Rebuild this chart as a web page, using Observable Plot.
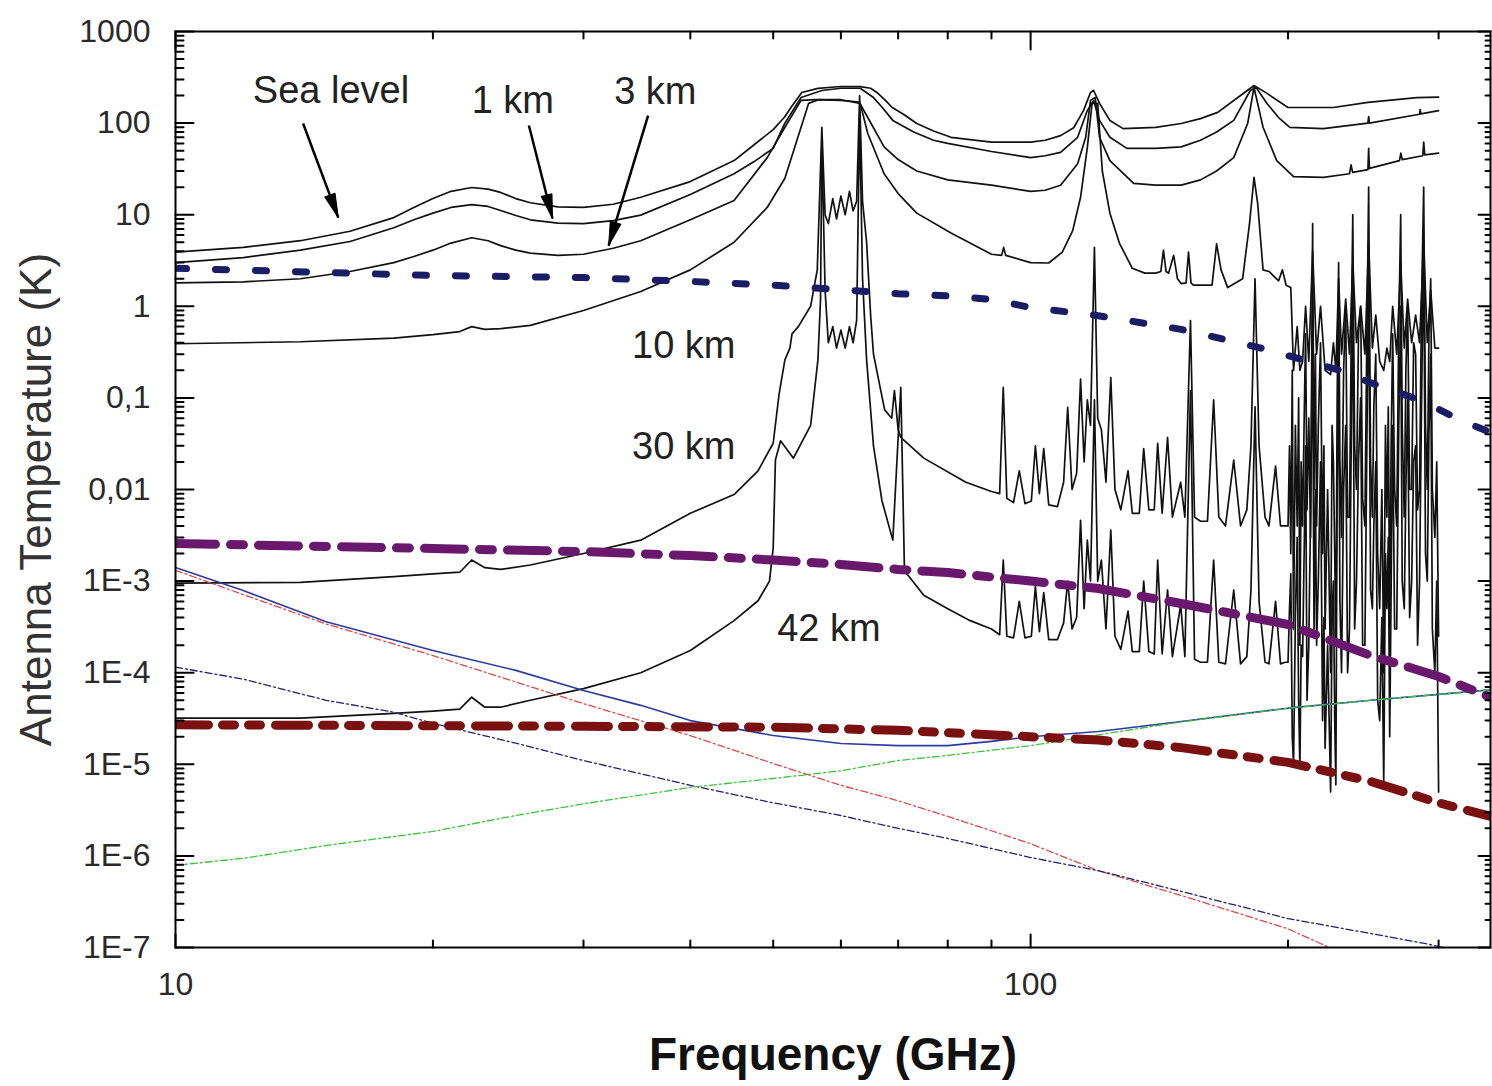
<!DOCTYPE html>
<html>
<head>
<meta charset="utf-8">
<script src="https://cdn.jsdelivr.net/npm/d3@7"></script>
<script src="https://cdn.jsdelivr.net/npm/@observablehq/plot@0.6"></script>
<style>
  html, body { margin: 0; padding: 0; background: #fff; }
  #chart svg { display: block; }
</style>
</head>
<body>
<div id="chart"></div>
<script>
// ---------- axis ticks / labels ----------
const xDomain = [10, 345];
const yDomain = [1e-7, 1000];
const xMajor = [10, 100];
const xTickLabels = ["10", "100"];
const xMinor = [20, 30, 40, 50, 60, 70, 80, 90, 200, 300];
const yMajor = [1e-7, 1e-6, 1e-5, 1e-4, 1e-3, 1e-2, 1e-1, 1, 10, 100, 1000];
const yTickLabels = ["1E-7", "1E-6", "1E-5", "1E-4", "1E-3", "0,01", "0,1", "1", "10", "100", "1000"];
const minorMultipliers = [2, 3, 4, 5, 6, 7, 8, 9];
const xTitle = "Frequency (GHz)";
const yTitle = "Antenna Temperature (K)";

// ---------- annotations ----------
const labelText = ["Sea level", "1 km", "3 km", "10 km", "30 km", "42 km"];
const labelFreq = [15.2, 24.8, 36.4, 39.3, 39.3, 58.1];
const labelTemp = [227, 177, 221, 0.373, 0.0294, 3.03e-4];
const arrowFrom = [[14.1, 99], [25.9, 94], [35.7, 121]];
const arrowTo = [[15.5, 9.3], [27.6, 9.1], [32.1, 4.6]];

// ---------- series: [frequency GHz, antenna temperature K] ----------
const seaLevel = [[10,3.9],[12,4.4],[14,5.2],[16,6.6],[18,9.3],[19,12],[20,15],[21,18],[22.2,19.8],[23.2,19],[24,17.5],[25,15],[26,13.5],[28,12.2],[30,12.0],[32.5,13],[35,15.5],[40,23],[45,39],[47.5,58],[50,85],[51.5,115],[52.5,150],[54,216],[56.4,239],[60,251],[63.2,250],[65,240],[66.1,216],[67.5,180],[68.9,148],[71,125],[73.6,99],[77,82],[80.7,70],[90,62],[100,62],[104,65],[108.4,73],[112.3,89],[115.3,137],[117.5,216],[118.5,227],[120.4,164],[123.8,107],[128.3,87],[140,90],[150,99],[158,112],[165.5,131],[176,200],[182.5,257],[189,211],[200,148],[226,148],[248,168],[283,190],[300,192]];

const oneKm = [[10,3.0],[12,3.4],[14,4.1],[16,5.1],[18,7.2],[19,8.8],[20,10.4],[21,12],[22.2,12.9],[23.2,12.3],[24,11.1],[25,9.8],[26,8.8],[28,8.1],[30,8.0],[32.5,8.6],[35,9.9],[40,16.6],[45,28],[47.5,38],[50,53],[51.6,100],[53.9,190],[57,227],[60,240],[63.2,240],[65.5,190],[67,150],[69,107],[73,80],[77,65],[80,60],[90,49],[100,42],[104,44],[108.4,48],[113.5,70],[116.5,137],[118.5,177],[120.4,107],[123.8,70],[129.6,53],[140,53],[150,55],[158,65],[165,80],[172.8,107],[180.7,227],[183.5,245],[189,164],[195,115],[201,90],[220,87],[248,100],[248.5,118],[249,100],[285,125],[285.5,140],[286,126],[300,137]];

const threeKm = [[10,1.8],[12,1.85],[14,2.0],[16,2.4],[18,3.0],[19,3.5],[20,4.1],[21,4.9],[22.2,5.6],[23.2,5.2],[24,4.6],[25,4.1],[26,3.8],[28,3.6],[30,3.7],[32.5,4.3],[35,5.2],[40,8.8],[45,14.3],[49.2,42],[51.6,90],[53.9,177],[56,180],[60,177],[63,170],[64.5,115],[67.4,55],[70,40],[73.6,30],[80,24],[90,21],[100,18],[104,18.5],[108.4,21],[113.5,36],[116,70],[117.5,177],[119,190],[120.4,70],[123.8,39],[132,22],[140,21],[150,21],[158,24],[165,30],[172.8,42],[179.4,99],[182.5,245],[187,90],[194,39],[203,26],[220,25.6],[236,28],[237,35],[238,29],[248,31],[248.5,53],[249,32],[270,39],[271,47],[272,40],[287.5,44],[288.2,62],[289,45],[300,47]];

const tenKm = [[10,0.39],[14,0.41],[18,0.45],[20,0.49],[21.5,0.53],[22.2,0.60],[23,0.56],[24,0.57],[26,0.62],[30,0.90],[35,1.45],[40,2.5],[45,5.0],[49.2,12],[51.6,25],[53.3,65],[55,164],[56.5,180],[60,180],[63.2,164],[64.5,77],[67.4,28],[70,17],[73.6,10.4],[80.7,6.3],[90,3.7],[92.5,3.6],[93,4.4],[93.5,3.6],[100,3.0],[105,2.97],[108.9,3.9],[112,6.7],[114.4,15.5],[116.5,54],[118,164],[119.8,164],[121.3,30],[123.8,10.4],[127,4.9],[131.5,2.6],[136,2.3],[140,2.3],[142,2.4],[143,4.1],[144,2.4],[145,2.3],[147,3.6],[148.5,2.0],[150,1.77],[152,1.8],[153,3.9],[154,1.8],[155,1.7],[163,1.7],[165,4.8],[167,2.5],[170,1.6],[177,2.0],[180.3,8.0],[182.5,25.5],[184.3,13.3],[187,2.5],[190,2.4],[195,1.9],[197,2.5],[199,1.7],[201.5,1.6],[203,0.2],[205,0.6],[206.5,0.2],[208,0.25],[209.7,1.0],[211.5,0.25],[213.7,4],[216,0.3],[218.3,1.0],[221,0.2],[224.3,0.18],[226,0.4],[227.5,0.2],[229.2,2.0],[231,0.3],[233.6,1.2],[236,0.3],[238.1,3],[240.5,0.4],[243.2,1.0],[246,0.3],[248.5,5],[251,0.35],[253.3,0.8],[256,0.25],[258.8,0.2],[261,0.35],[263,0.25],[265.1,1.0],[268,0.3],[270.9,3],[273.5,0.35],[276,1.2],[279,0.4],[282,0.8],[285,0.4],[288.2,5],[291,0.4],[293.7,1.5],[297,0.35],[300,0.35]];

const thirtyKm = [[10,9.5e-4],[14,9.7e-4],[18,1.12e-3],[20,1.2e-3],[21.5,1.25e-3],[22.2,1.7e-3],[23,1.4e-3],[24,1.34e-3],[26,1.5e-3],[30,2.0e-3],[35,2.8e-3],[40,5.5e-3],[45,8.8e-3],[48,0.016],[50,0.032],[50.8,0.11],[51.6,0.26],[52.3,0.35],[52.6,0.5],[53.5,0.6],[55.3,1.0],[56.3,2.5],[57,90],[57.5,10],[58,8],[58.7,15],[59.3,9],[60,16],[60.7,10],[61.4,18],[62,11],[62.6,14],[63.1,200],[63.6,14],[64.3,5],[65,0.8],[65.5,0.3],[67.5,0.074],[68.8,0.06],[69.3,0.12],[70,0.045],[70.5,0.037],[75,0.022],[84,0.012],[90,0.0095],[92,0.009],[92.9,0.13],[93.8,0.008],[95.5,0.0072],[97,0.016],[98.5,0.007],[100.2,0.0075],[101.3,0.03],[102.4,0.009],[103.6,0.028],[105,0.0068],[107.5,0.0065],[109.3,0.012],[110.5,0.079],[111.8,0.01],[113.2,0.015],[114.4,0.16],[115.5,0.02],[116.5,0.095],[117.5,0.05],[118.75,4.4],[119.8,0.06],[121,0.045],[122.5,0.012],[124.1,0.167],[125.5,0.01],[127.5,0.006],[130,0.016],[131.5,0.0055],[134,0.0055],[135.6,0.028],[137.5,0.006],[139.5,0.006],[140.8,0.032],[142.5,0.0055],[144.6,0.037],[146.5,0.005],[149.8,0.012],[151.5,0.005],[153.8,0.7],[155.5,0.005],[158,0.0045],[161,0.0045],[163.7,0.095],[166,0.005],[169,0.004],[172.8,0.021],[176,0.004],[179,0.006],[181,0.03],[183,2.0],[185,0.03],[188,0.005],[190,0.004],[193.4,0.018],[196,0.004],[198.5,0.004],
[200,0.004],[200.8,0.03],[201.5,0.002],[202.3,0.2],[203,3e-4],[204,0.05],[205,0.004],[205.8,0.1],[206.5,2e-4],[207.2,0.02],[208,4e-3],[209,0.08],[209.7,0.5],[210.5,0.006],[211.5,0.06],[212.5,0.003],[213.7,8],[214.5,0.01],[215.3,0.3],[216,4e-3],[217,0.05],[218.3,0.4],[219.5,0.002],[220.3,0.03],[221,3e-4],[222.5,0.01],[224.3,1e-4],[225.2,0.05],[226,0.02],[226.8,0.002],[227.5,2e-4],[228.3,0.1],[229.2,3],[230,0.02],[231,3e-3],[232.3,0.2],[233.6,1.0],[234.8,0.005],[236,5e-3],[237,0.3],[238.1,10],[239.3,0.03],[240.5,0.01],[241.8,0.5],[243.2,1.0],[244.5,0.008],[246,4e-3],[247.3,0.5],[248.5,20],[249.8,0.02],[251,5e-3],[252,0.08],[253.3,0.3],[254.6,0.002],[256,5e-4],[257.5,0.01],[258.8,1e-4],[260,0.05],[261,5e-3],[262,0.08],[263,3e-4],[264,0.03],[265.1,0.5],[266.5,0.01],[268,4e-3],[269.5,0.6],[270.9,10],[272,0.05],[273.5,5e-3],[274.7,0.2],[276,1.0],[277.5,0.01],[279,0.01],[280.5,0.4],[282,0.3],[283.5,0.006],[285,0.01],[286.5,1.0],[288.2,20],[289.6,0.05],[291,0.01],[292.3,0.5],[293.7,2],[295,0.01],[297,3e-3],[298.5,0.02],[300,2.5e-4]];

const fortyTwoKm = [[10,3.2e-5],[14,3.2e-5],[18,3.6e-5],[20,3.8e-5],[21.5,4.0e-5],[22.2,5.4e-5],[23,4.2e-5],[24,4.2e-5],[26,5.0e-5],[30,6.7e-5],[35,1.0e-4],[40,1.75e-4],[45,3.7e-4],[48,6.1e-4],[49.5,1.0e-3],[50.0,2.3e-3],[50.3,0.021],[51.0,0.034],[52.8,0.022],[55.3,0.05],[56.4,0.26],[56.8,1.2],[57,60],[57.5,1.5],[58,0.4],[58.7,0.6],[59.3,0.35],[60,0.55],[60.7,0.35],[61.4,0.6],[62,0.4],[62.6,0.7],[63.1,120],[63.6,2.0],[64.3,0.26],[65.5,0.03],[67,0.0076],[69,0.0028],[70.5,0.13],[71.2,0.0013],[75,7e-4],[80,5e-4],[85,3.7e-4],[90,3.0e-4],[92,2.6e-4],[92.9,1.7e-3],[93.8,2.5e-4],[95.5,2.4e-4],[97,6e-4],[98.5,2.4e-4],[100.2,2.5e-4],[101.3,8.7e-4],[102.4,2.8e-4],[103.6,7.5e-4],[105,2.3e-4],[107.5,2.3e-4],[109.3,3.5e-4],[110.5,1.0e-3],[111.8,3e-4],[113.2,4e-4],[114.4,4.6e-3],[115.5,5e-4],[116.5,2.8e-3],[117.5,1e-3],[118.75,0.095],[119.8,1e-3],[121,1.7e-3],[122.5,3e-4],[124.1,3.6e-3],[125.5,2.5e-4],[127.5,1.8e-4],[130,4.7e-4],[131.5,1.7e-4],[134,1.7e-4],[135.6,1e-3],[137.5,1.7e-4],[139.5,1.6e-4],[140.8,1.7e-3],[142.5,1.6e-4],[144.6,8e-4],[146.5,1.5e-4],[149.8,5.5e-4],[151.5,1.5e-4],[153.8,0.12],[155.5,1.4e-4],[158,1.3e-4],[161,1.3e-4],[163.7,1.7e-3],[166,1.3e-4],[169,1.25e-4],[172.8,8e-4],[176,1.25e-4],[179,1.5e-4],[181,8e-4],[183,0.08],[185,6e-4],[188,1.3e-4],[190,1.25e-4],[193.4,6e-4],[196,1.25e-4],[198.5,1.3e-4],
[200,1.3e-4],[200.8,5e-4],[201.5,1.2e-3],[202.3,2e-5],[203,1e-5],[204,4e-4],[205,3e-3],[205.8,5e-5],[206.5,9e-6],[207.2,2e-4],[208,1.5e-4],[209,0.003],[209.7,0.03],[210.5,5e-5],[211.5,2e-4],[212.5,0.005],[213.7,0.6],[214.5,3e-4],[215.3,0.01],[216,2e-4],[217,1e-3],[218.3,0.02],[219.5,3e-5],[220.3,4e-4],[221,1.5e-5],[222.5,2e-4],[224.3,5e-6],[225.2,4e-4],[226,1e-3],[226.8,3e-5],[227.5,6e-6],[228.3,0.01],[229.2,0.3],[230,6e-4],[231,1e-4],[232.3,0.01],[233.6,0.05],[234.8,1e-4],[236,3e-4],[237,0.02],[238.1,2.0],[239.3,3e-4],[240.5,1e-3],[241.8,0.02],[243.2,0.1],[244.5,2e-4],[246,2e-4],[247.3,0.03],[248.5,3],[249.8,8e-4],[251,5e-4],[252,0.004],[253.3,0.02],[254.6,5e-5],[256,3e-5],[257.5,4e-4],[258.8,6e-6],[260,2e-3],[261,5e-4],[262,3e-3],[263,2e-5],[264,8e-4],[265.1,0.05],[266.5,3e-4],[268,3e-4],[269.5,0.05],[270.9,1.0],[272,1e-3],[273.5,5e-4],[274.7,0.01],[276,0.1],[277.5,4e-4],[279,1e-3],[280.5,0.02],[282,0.03],[283.5,2e-4],[285,1e-3],[286.5,0.08],[288.2,5.0],[289.6,2e-3],[291,1e-3],[292.3,0.04],[293.7,0.3],[295,3e-4],[297,1e-4],[298.5,1e-3],[300,5e-6]];

const navyDotted = [[10,2.6],[20,2.17],[30,2.06],[40,1.87],[50,1.7],[60,1.52],[70,1.37],[80,1.3],[90,1.19],[100,0.97],[120,0.79],[150,0.56],[186,0.35],[230,0.2],[255,0.136],[286,0.094],[318,0.057],[345,0.042]];

const purpleDashDot = [[10,2.57e-3],[20,2.27e-3],[30,2.1e-3],[40,1.9e-3],[50,1.7e-3],[60,1.52e-3],[70,1.34e-3],[80,1.24e-3],[100,1.0e-3],[120,8.3e-4],[150,5.7e-4],[200,3.36e-4],[250,1.54e-4],[300,9.1e-5],[345,5.4e-5]];

const darkRedDashDot = [[10,2.7e-5],[30,2.6e-5],[50,2.54e-5],[70,2.35e-5],[100,2.0e-5],[120,1.84e-5],[150,1.52e-5],[200,1.05e-5],[250,6.5e-6],[300,3.8e-6],[345,2.7e-6]];

const blueSolid = [[10,1.41e-3],[12,7.9e-4],[15,3.6e-4],[20,1.75e-4],[25,1.06e-4],[30,6.4e-5],[35,4.4e-5],[40,3.0e-5],[50,2.06e-5],[60,1.69e-5],[70,1.6e-5],[80,1.6e-5],[90,1.78e-5],[100,2.0e-5],[120,2.28e-5],[150,2.93e-5],[200,4.1e-5],[250,5.0e-5],[300,5.8e-5],[345,6.5e-5]];

const redThin = [[10,1.31e-3],[15,3.4e-4],[20,1.54e-4],[30,4.6e-5],[40,2.06e-5],[50,1.02e-5],[60,5.9e-6],[70,4.0e-6],[80,2.7e-6],[100,1.36e-6],[120,6.9e-7],[150,3.7e-7],[200,1.6e-7],[222,1.03e-7],[240,8e-8]];

const navyThin = [[10,1.15e-4],[12,8.5e-5],[15,5.0e-5],[18,3.7e-5],[20,2.8e-5],[25,1.7e-5],[30,1.1e-5],[40,5.9e-6],[50,3.8e-6],[60,2.76e-6],[70,2.0e-6],[80,1.55e-6],[100,9.6e-7],[120,6.9e-7],[150,4.1e-7],[200,2.07e-7],[250,1.42e-7],[290,1.1e-7],[320,9e-8]];

const greenThin = [[10,7.9e-7],[12,9.4e-7],[15,1.3e-6],[20,1.85e-6],[25,2.76e-6],[30,3.7e-6],[40,5.6e-6],[50,7.0e-6],[60,8.5e-6],[70,1.1e-5],[80,1.25e-5],[100,1.6e-5],[120,2.1e-5],[150,2.9e-5],[200,4.1e-5],[250,5.0e-5],[300,5.8e-5],[345,6.5e-5]];

// ---------- build ----------
const W = 1492, H = 1086, mL = 175, mR = 2, mT = 31, mB = 139;

const yMinor = [];
for (const d of yMajor.slice(0, -1)) for (const m of minorMultipliers) yMinor.push(m * d);

const annotations = labelText.map((label, i) => ({label, f: labelFreq[i], t: labelTemp[i]}));

// scales used only to orient the filled arrowheads along each arrow
const xs = Plot.scale({x: {type: "log", domain: xDomain, range: [mL, W - mR]}});
const ys = Plot.scale({y: {type: "log", domain: yDomain, range: [H - mB, mT]}});
const arrows = arrowFrom.map((a, i) => {
  const b = arrowTo[i];
  const dx = xs.apply(b[0]) - xs.apply(a[0]);
  const dy = ys.apply(b[1]) - ys.apply(a[1]);
  return {f1: a[0], t1: a[1], f2: b[0], t2: b[1], angle: Math.atan2(dx, -dy) * 180 / Math.PI};
});

const fx = d => d[0], fy = d => d[1];
const tickShape = {draw(context, l) { context.moveTo(0, 0); context.lineTo(0, -l); }};
const headShape = {draw(context, l) { context.moveTo(0, 0); context.lineTo(-5.5, l); context.lineTo(5.5, l); context.closePath(); }};
const tick = (data, key, anchor, rotate, length) =>
  Plot.vector(data, {[key]: d => d, frameAnchor: anchor, rotate, length, anchor: "start",
    shape: tickShape, stroke: "#000", strokeWidth: 2});

const blackCurves = [seaLevel, oneKm, threeKm, tenKm, thirtyKm, fortyTwoKm];
const thinDash = "7,3,2,3";

const chart = Plot.plot({
  width: W,
  height: H,
  marginLeft: mL,
  marginRight: mR,
  marginTop: mT,
  marginBottom: mB,
  x: {type: "log", domain: xDomain, axis: null},
  y: {type: "log", domain: yDomain, axis: null},
  style: {fontFamily: "'Liberation Sans', Arial, sans-serif", background: "#fff"},
  marks: [
    // black atmospheric curves
    ...blackCurves.map(s => Plot.line(s, {x: fx, y: fy, stroke: "#111", strokeWidth: 1.7, clip: true})),
    // thin coloured curves
    Plot.line(blueSolid, {x: fx, y: fy, stroke: "#2d3a9e", strokeWidth: 1.6, clip: true}),
    Plot.line(redThin, {x: fx, y: fy, stroke: "#e04848", strokeWidth: 1.3, strokeDasharray: thinDash, clip: true}),
    Plot.line(navyThin, {x: fx, y: fy, stroke: "#22226e", strokeWidth: 1.3, strokeDasharray: thinDash, clip: true}),
    Plot.line(greenThin, {x: fx, y: fy, stroke: "#3cc43c", strokeWidth: 1.3, strokeDasharray: thinDash, clip: true}),
    // thick dashed curves
    Plot.line(navyDotted, {x: fx, y: fy, stroke: "#1b1b66", strokeWidth: 7, strokeDasharray: "11,29", clip: true}),
    Plot.line(purpleDashDot, {x: fx, y: fy, stroke: "#6a186e", strokeWidth: 9, strokeDasharray: "40,15,13,15", clip: true}),
    Plot.line(darkRedDashDot, {x: fx, y: fy, stroke: "#7a1010", strokeWidth: 9, strokeDasharray: "33,14,12,14,12,15", clip: true}),
    // frame and inward ticks
    Plot.frame({stroke: "#000", strokeWidth: 2}),
    tick(yMajor, "y", "left", 90, 18),
    tick(yMinor, "y", "left", 90, 8),
    tick(yMajor, "y", "right", 270, 12),
    tick(yMinor, "y", "right", 270, 5),
    tick(xMajor, "x", "bottom", 0, 13),
    tick(xMinor, "x", "bottom", 0, 7),
    tick(xMajor, "x", "top", 180, 18),
    tick(xMinor, "x", "top", 180, 7),
    // tick labels
    Plot.text(yMajor, {y: d => d, text: (d, i) => yTickLabels[i], frameAnchor: "left", dx: -25,
      textAnchor: "end", fontSize: 32, fill: "#2a2a2a"}),
    Plot.text(xMajor, {x: d => d, text: (d, i) => xTickLabels[i], frameAnchor: "bottom", dy: 37,
      lineAnchor: "middle", fontSize: 32, fill: "#2a2a2a"}),
    // axis titles
    Plot.text([xTitle], {text: d => d, frameAnchor: "bottom", dy: 108, lineAnchor: "middle",
      textAnchor: "middle", fontSize: 46, fontWeight: "bold", fill: "#111"}),
    Plot.text([yTitle], {text: d => d, frameAnchor: "left", dx: -139, dy: 10, rotate: -90,
      textAnchor: "middle", lineAnchor: "middle", fontSize: 44, fill: "#333"}),
    // annotations
    Plot.link(arrows, {x1: "f1", y1: "t1", x2: "f2", y2: "t2", stroke: "#000", strokeWidth: 2.5}),
    Plot.vector(arrows, {x: "f2", y: "t2", rotate: "angle", length: 24, anchor: "start",
      shape: headShape, fill: "#000", stroke: "#000", strokeWidth: 1}),
    Plot.text(annotations, {x: "f", y: "t", text: "label", fontSize: 38, fill: "#222"})
  ]
});

document.getElementById("chart").appendChild(chart);
</script>
</body>
</html>
